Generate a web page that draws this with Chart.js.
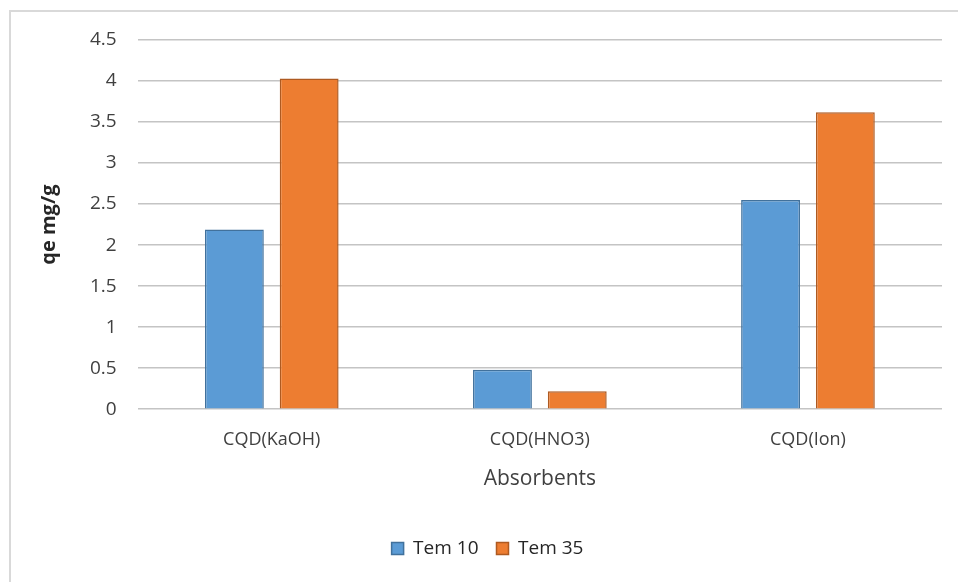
<!DOCTYPE html>
<html>
<head>
<meta charset="utf-8">
<script src="https://cdn.jsdelivr.net/npm/chart.js@4.4.0/dist/chart.umd.min.js"></script>
<style>
  html, body { margin: 0; padding: 0; background: #fff; }
  #marco { position: absolute; left: 9px; top: 10px; width: 960px; height: 600px; border: 2px solid #d9d9d9; }
  #caja { position: absolute; left: 0; top: 0; width: 958px; height: 582px; }
</style>
</head>
<body>
<div id="marco"></div>
<div id="caja"><canvas id="grafica"></canvas></div>
<script>
// datos
let categorias = ["CQD(KaOH)", "CQD(HNO3)", "CQD(Ion)"];
let tem10 = [2.19, 0.48, 2.55];
let tem35 = [4.03, 0.22, 3.62];
let nombres = ["Tem 10", "Tem 35"];

let fuente = "'Open Sans', 'Liberation Sans', sans-serif";

const config = {
    type: 'bar',
    data: {
        labels: categorias,
        datasets: [{
            label: nombres[0],
            data: tem10,
            backgroundColor: '#5B9BD5',
            borderColor: '#41719C',
            borderWidth: 1.5,
            categoryPercentage: 0.558,
            barPercentage: 0.787
        }, {
            label: nombres[1],
            data: tem35,
            backgroundColor: '#ED7D31',
            borderColor: '#AE5A21',
            borderWidth: 1.5,
            categoryPercentage: 0.558,
            barPercentage: 0.787
        }]
    },
    options: {
        responsive: false,
        animation: false,
        layout: { padding: { left: 33, right: 16, top: 40, bottom: 14 } },
        plugins: {
            legend: {
                position: 'bottom',
                labels: {
                    boxWidth: 12,
                    boxHeight: 12,
                    color: '#262626',
                    font: { family: fuente, size: 19 },
                    padding: 18
                }
            },
            tooltip: { enabled: false }
        },
        scales: {
            x: {
                grid: { display: false },
                border: { display: false },
                ticks: { color: '#404040', font: { family: fuente, size: 18 }, padding: 12 },
                title: {
                    display: true,
                    text: 'Absorbents',
                    color: '#404040',
                    font: { family: fuente, size: 21 },
                    padding: { top: 4, bottom: 29 }
                }
            },
            y: {
                min: 0,
                max: 4.5,
                ticks: {
                    stepSize: 0.5,
                    color: '#404040',
                    font: { family: fuente, size: 19 },
                    padding: 21,
                    callback: function (valor) { return String(Number(valor)); }
                },
                grid: { color: '#c4c4c4', lineWidth: 1.5, drawTicks: false },
                border: { display: false },
                title: {
                    display: true,
                    text: 'qe mg/g',
                    color: '#262626',
                    font: { family: fuente, size: 20, weight: 'bold' },
                    padding: { top: 4, bottom: 8 }
                }
            }
        }
    }
};

const canvas = document.getElementById('grafica');
canvas.width = 958;
canvas.height = 582;
new Chart(canvas, config);
</script>
</body>
</html>
